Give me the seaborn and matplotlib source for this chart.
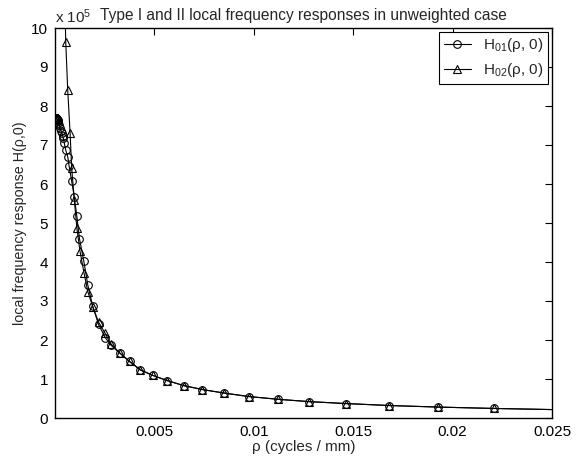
import numpy as np
import pandas as pd
import matplotlib
matplotlib.use("Agg")
import matplotlib.pyplot as plt
import seaborn as sns
from matplotlib.ticker import FuncFormatter, FixedLocator

# ---- data ----
rho_01 = [0.000000, 0.000005, 0.000010, 0.000015, 0.000020, 0.000025, 0.000030,
          0.000035, 0.000040, 0.000045, 0.000050, 0.000055, 0.000060, 0.000065,
          0.000070, 0.000075, 0.000080, 0.000090, 0.000100, 0.000110, 0.000120,
          0.000130, 0.000140, 0.000150,
          0.000167, 0.000210, 0.000253, 0.000295, 0.000338, 0.000380, 0.000419, 0.00047,
          0.00054, 0.00064, 0.00071,
          0.00084, 0.00097, 0.00110, 0.00123, 0.00145, 0.00165, 0.00190, 0.00219,
          0.00253, 0.00283, 0.00325, 0.00375, 0.00429, 0.00493, 0.00564, 0.00648,
          0.00741, 0.00850, 0.00975, 0.01121, 0.01278, 0.01465, 0.01682, 0.01929,
          0.02207, 0.02530]
h01_e5 = [7.70, 7.70, 7.70, 7.70, 7.70, 7.70, 7.70,
          7.69, 7.69, 7.69, 7.69, 7.69, 7.68, 7.68,
          7.68, 7.68, 7.67, 7.67, 7.66, 7.65, 7.64,
          7.63, 7.62, 7.61,
          7.56, 7.50, 7.43, 7.37, 7.30, 7.24, 7.17, 7.04,
          6.87, 6.70, 6.46,
          6.07, 5.67, 5.17, 4.60, 4.02, 3.41, 2.86, 2.40,
          2.06, 1.86, 1.67, 1.45, 1.24, 1.09, 0.96, 0.83,
          0.73, 0.64, 0.55, 0.48, 0.42, 0.37, 0.32, 0.28,
          0.245, 0.213]

rho_02 = [0.00046, 0.00054, 0.00064, 0.00076, 0.00084, 0.00097, 0.00110, 0.00126,
          0.00146, 0.00165, 0.00190, 0.00219, 0.00250, 0.00283, 0.00325, 0.00375,
          0.00429, 0.00493, 0.00564, 0.00648, 0.00741, 0.00850, 0.00975, 0.01121,
          0.01278, 0.01465, 0.01682, 0.01929, 0.02207, 0.02530]
h02_e5 = [11.5, 9.65, 8.41, 7.30, 6.40, 5.60, 4.87, 4.27,
          3.72, 3.24, 2.85, 2.46, 2.19, 1.89, 1.67, 1.45,
          1.23, 1.09, 0.96, 0.83, 0.73, 0.64, 0.55, 0.48,
          0.42, 0.37, 0.32, 0.28, 0.245, 0.213]

x_ticks = [0.005, 0.01, 0.015, 0.02, 0.025]
x_tick_labels = ["0.005", "0.01", "0.015", "0.02", "0.025"]
y_ticks = list(range(0, 11))

title = "Type I and II local frequency responses in unweighted case"
xlabel = "\u03c1 (cycles / mm)"
ylabel = "local frequency response H(\u03c1,0)"
label01 = "H$_{01}$(\u03c1, 0)"
label02 = "H$_{02}$(\u03c1, 0)"

df1 = pd.DataFrame({"rho": rho_01, "H": np.array(h01_e5) * 1e5})
df2 = pd.DataFrame({"rho": rho_02, "H": np.array(h02_e5) * 1e5})

# ---- style ----
sns.set_style("white")
plt.rcParams["font.family"] = ["Liberation Sans", "DejaVu Sans"]
plt.rcParams["mathtext.fontset"] = "custom"
plt.rcParams["mathtext.rm"] = "Liberation Sans"
plt.rcParams["mathtext.it"] = "Liberation Sans:italic"
plt.rcParams["mathtext.default"] = "regular"

fig = plt.figure(figsize=(5.87, 4.61), dpi=100)
ax = fig.add_axes([55 / 587, 1 - 418 / 461, (552 - 55) / 587, (418 - 28) / 461])

sns.lineplot(data=df1, x="rho", y="H", ax=ax, sort=False, estimator=None,
             color="black", linewidth=0.8, marker="o", markersize=5.5,
             markerfacecolor="none", markeredgecolor="black", markeredgewidth=0.8,
             label=label01)
sns.lineplot(data=df2, x="rho", y="H", ax=ax, sort=False, estimator=None,
             color="black", linewidth=0.8, marker="^", markersize=5.5,
             markerfacecolor="none", markeredgecolor="black", markeredgewidth=0.8,
             label=label02)

ax.set_xlim(0, 0.025)
ax.set_ylim(0, 10e5)
ax.xaxis.set_major_locator(FixedLocator(x_ticks))
ax.set_xticklabels(x_tick_labels)
ax.yaxis.set_major_locator(FixedLocator([v * 1e5 for v in y_ticks]))
ax.yaxis.set_major_formatter(FuncFormatter(lambda v, p: f"{v / 1e5:g}"))

ax.tick_params(direction="in", top=True, right=True, length=5, width=0.8,
               labelsize=11, colors="black", pad=5)
for s in ax.spines.values():
    s.set_linewidth(1.0)
    s.set_color("black")

ax.set_xlabel(xlabel, fontsize=11, labelpad=1)
ax.set_ylabel(ylabel, fontsize=10.3, labelpad=3)
ax.set_title(title, fontsize=11.2, pad=6)
ax.text(0.0, 1.006, r"x 10$^{5}$", transform=ax.transAxes, fontsize=11,
        ha="left", va="bottom")

leg = ax.legend(loc="upper right", frameon=True, fancybox=False, fontsize=11,
                handlelength=1.8, borderaxespad=0.25, borderpad=0.3,
                labelspacing=0.45, handletextpad=0.8, edgecolor="black")
leg.get_frame().set_linewidth(0.8)
leg.get_frame().set_alpha(1)

fig.savefig("out.png", dpi=100)
